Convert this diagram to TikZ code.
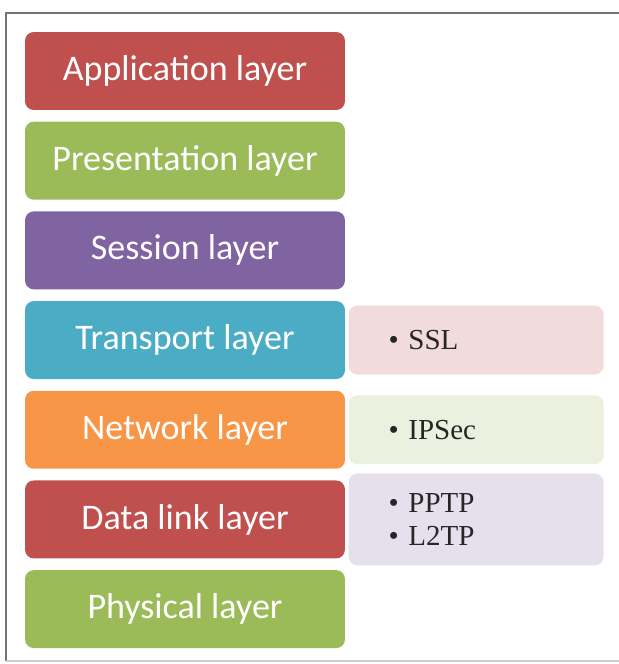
\documentclass[tikz,border=0pt]{standalone}
\usepackage{fontspec}
\setmainfont{Liberation Serif}
\newfontfamily\layerfont{Carlito}
\usepackage{xcolor}
\usetikzlibrary{positioning}

\definecolor{osired}{HTML}{C0504D}
\definecolor{osigreen}{HTML}{9BBB59}
\definecolor{osipurple}{HTML}{8064A2}
\definecolor{ositeal}{HTML}{4BACC6}
\definecolor{osiorange}{HTML}{F79646}
\definecolor{protored}{HTML}{F2DCDB}
\definecolor{protogreen}{HTML}{EBF1DE}
\definecolor{protopurple}{HTML}{E5E0EC}

\begin{document}
\begin{tikzpicture}[
    x=0.02cm, y=-0.02cm,
    node distance=0.22cm,
    layer/.style={rectangle, rounded corners=5pt, minimum width=6.4cm, minimum height=1.56cm,
                  inner sep=0pt, text=white, font=\layerfont\fontsize{20.5}{24}\selectfont},
    proto/.style={rectangle, rounded corners=5pt, minimum height=1.38cm, text width=3.5cm,
                  inner xsep=0.8cm, align=left, text=black!85, font=\fontsize{16.5}{19}\selectfont},
]
\useasboundingbox (0,0) rectangle (619,664);

% frame
\draw[black!55, line width=1.2pt] (625,13) -- (6,13) -- (6,661);
\draw[black!20, line width=0.8pt] (6,661) -- (625,661);

% the seven layers
\node[layer, fill=osired] (al) at (185,71) {Application layer};
\node[layer, fill=osigreen, below=of al] (pl) {Presentation layer};
\node[layer, fill=osipurple, below=of pl] (sl) {Session layer};
\node[layer, fill=ositeal, below=of sl] (tl) {Transport layer};
\node[layer, fill=osiorange, below=of tl] (nl) {Network layer};
\node[layer, fill=osired, below=of nl] (dl) {Data link layer};
\node[layer, fill=osigreen, below=of dl] (phl) {Physical layer};

% security protocols
\node[proto, fill=protored, right=0.06cm of tl] (ssl) {• SSL};
\node[proto, fill=protogreen, right=0.06cm of nl] (ipsec) {• IPSec};
\node[proto, fill=protopurple, minimum height=1.84cm, right=0.06cm of dl] (pptp) {• PPTP\\• L2TP};

\end{tikzpicture}
\end{document}
